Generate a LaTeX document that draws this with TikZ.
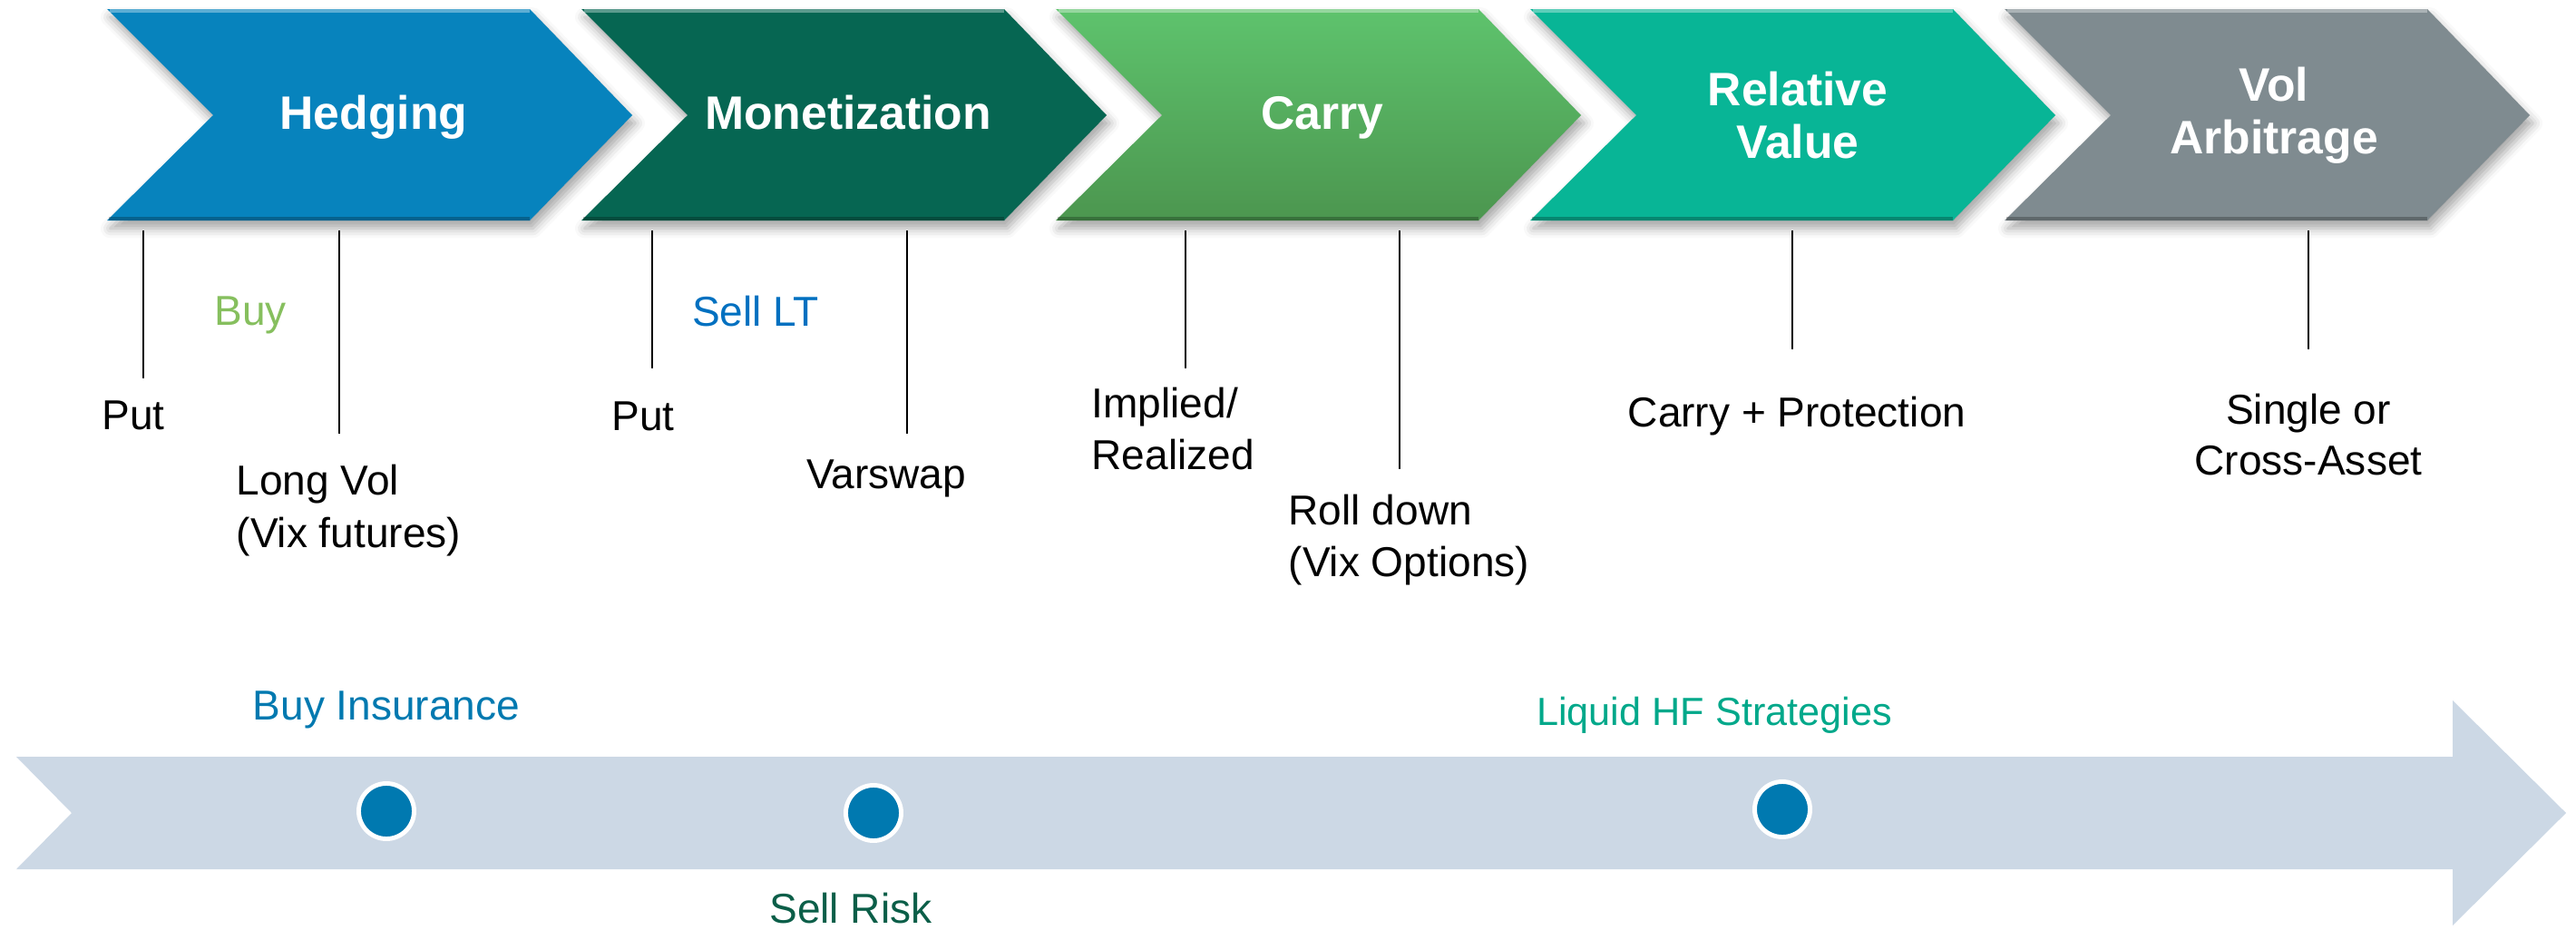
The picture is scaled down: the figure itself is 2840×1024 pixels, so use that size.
\documentclass[tikz,border=0pt]{standalone}
\usepackage{fontspec}
\setmainfont{Liberation Sans}
\usetikzlibrary{shadows.blur}
\definecolor{cHedge}{HTML}{0783BD}
\definecolor{cMonet}{HTML}{066652}
\definecolor{cCarryT}{HTML}{5EC36D}
\definecolor{cCarryB}{HTML}{4C964F}
\definecolor{cRel}{HTML}{08B596}
\definecolor{cVol}{HTML}{7F8B90}
\definecolor{cArrow}{HTML}{CCD8E5}
\definecolor{cDot}{HTML}{0079B0}
\definecolor{cBuy}{HTML}{86BF5E}
\definecolor{cSellLT}{HTML}{0070C0}
\definecolor{cIns}{HTML}{0079B0}
\definecolor{cRisk}{HTML}{0B5E48}
\definecolor{cLiq}{HTML}{00A88A}
\tikzset{
  chevshadow/.style={blur shadow={shadow xshift=1pt,shadow yshift=-2.5pt,shadow blur radius=3pt,shadow opacity=35}},
  chevtitle/.style={font=\fontsize{14.7}{16.5}\selectfont\bfseries,text=white,align=center,inner sep=0pt},
  lbl/.style={font=\fontsize{13.1}{16.2}\selectfont,text=black,inner sep=0pt,anchor=base},
  lbll/.style={lbl,anchor=base west},
  tick/.style={draw=black,line width=0.45pt},
  dot/.style={circle,fill=cDot,draw=white,line width=1.4pt,minimum size=0.61cm,inner sep=0pt},
}
\begin{document}
\begin{tikzpicture}[x=0.01cm,y=-0.01cm]
\useasboundingbox (0,0) rectangle (2840,1024);
% chevrons
\def\chev#1{(#1,10) -- ++(466,0) -- ++(113,117) -- ++(-113,116) -- ++(-466,0) -- ++(117,-116) -- cycle}
\fill[cHedge,chevshadow] \chev{118};
\fill[cMonet,chevshadow] \chev{641};
\shade[top color=cCarryT,bottom color=cCarryB,chevshadow] \chev{1164};
\fill[cRel,chevshadow] \chev{1687};
\fill[cVol,chevshadow] \chev{2210};
% bevel highlights
\foreach \s in {118,641,1164,1687,2210}{
  \draw[white,opacity=0.35,line width=1.2pt] (\s+3,12) -- (\s+466,12);
  \draw[black,opacity=0.25,line width=1.2pt] (\s+2,241) -- (\s+466,241);
}
\node[chevtitle,anchor=base] (hedging) at (412,142) {Hedging};
\node[chevtitle,anchor=base] (monet) at (935,142) {Monetization};
\node[chevtitle,anchor=base] (carry) at (1458,142) {Carry};
\node[chevtitle] (relval) at (1982,127) {Relative\\Value};
\node[chevtitle] (volarb) at (2507,127) {Vol\\Arbitrage};
% ticks
\coordinate (t1a) at (158,254); \coordinate (t1b) at (158,417);
\coordinate (t2a) at (374,254); \coordinate (t2b) at (374,478);
\coordinate (t3a) at (719,254); \coordinate (t3b) at (719,406);
\coordinate (t4a) at (1000,254); \coordinate (t4b) at (1000,478);
\coordinate (t5a) at (1307,254); \coordinate (t5b) at (1307,406);
\coordinate (t6a) at (1543,254); \coordinate (t6b) at (1543,517);
\coordinate (t7a) at (1976,254); \coordinate (t7b) at (1976,385);
\coordinate (t8a) at (2545,254); \coordinate (t8b) at (2545,385);
\foreach \i in {1,...,8}{\draw[tick] (t\i a) -- (t\i b);}
% labels
\node[lbl,text=cBuy] (buy) at (276,358) {Buy};
\node[lbl] (put1) at (147,473) {Put};
\node[lbll] (longvol) at (260,545) {Long Vol};
\node[lbll] (vixfut) at (260,603) {(Vix futures)};
\node[lbl,text=cSellLT] (selllt) at (833,359) {Sell LT};
\node[lbl] (put2) at (709,474) {Put};
\node[lbl] (varswap) at (977,538) {Varswap};
\node[lbll] (implied) at (1203,460) {Implied/};
\node[lbll] (realized) at (1203,517) {Realized};
\node[lbll] (rolldown) at (1420,578) {Roll down};
\node[lbll] (vixopt) at (1420,635) {(Vix Options)};
\node[lbl] (carryprot) at (1981,470) {Carry + Protection};
\node[lbl] (single) at (2545,467) {Single or};
\node[lbl] (cross) at (2545,523) {Cross-Asset};
% bottom arrow
\fill[cArrow] (18,834) -- (2704,834) -- (2704,772) -- (2829,896) -- (2704,1020) -- (2704,958) -- (18,958) -- (79,896) -- cycle;
\node[dot] (d1) at (426,894) {};
\node[dot] (d2) at (963,896) {};
\node[dot] (d3) at (1965,892) {};
\node[lbl,text=cIns] (buyins) at (426,793) {Buy Insurance};
\node[lbl,text=cRisk] (sellrisk) at (938,1017) {Sell Risk};
\node[lbl,text=cLiq,font=\fontsize{12.3}{14}\selectfont] (liquid) at (1890,799) {Liquid HF Strategies};
\end{tikzpicture}
\end{document}
